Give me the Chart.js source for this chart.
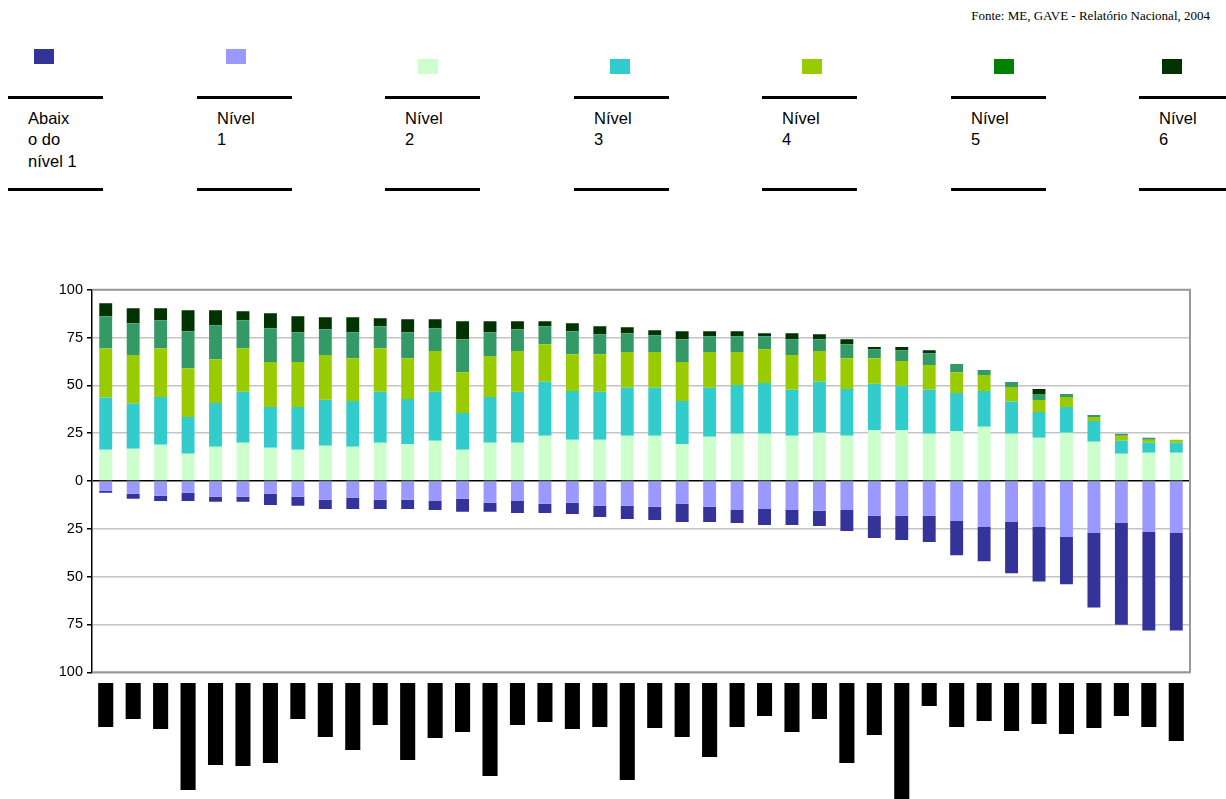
<!DOCTYPE html>
<html>
<head>
<meta charset="utf-8">
<script src="https://cdn.jsdelivr.net/npm/chart.js@4.4.1/dist/chart.umd.min.js"></script>
<style>
  body { margin: 0; background: #fff; width: 1226px; height: 799px; overflow: hidden; position: relative; font-family: Arial, "Liberation Sans", sans-serif; }
  #source { position: absolute; right: 16px; top: 8px; font: 13px "Liberation Serif", "Times New Roman", serif; color: #000; }
  .rule { position: absolute; height: 0; border-top: 3px solid #000; width: 95px; }
  .swatch { position: absolute; width: 20px; height: 15px; }
  .ltext { position: absolute; font-size: 16.5px; line-height: 21.3px; color: #000; white-space: pre; }
  #mainWrap { position: absolute; left: 0; top: 277px; width: 1192px; height: 408px; }
  #blockWrap { position: absolute; left: 92px; top: 683px; width: 1098px; height: 116px; }
</style>
</head>
<body>
<div id="source">Fonte: ME, GAVE - Relatório Nacional, 2004</div>
<div id="legend"></div>
<div id="mainWrap"><canvas id="mainChart"></canvas></div>
<div id="blockWrap"><canvas id="blockChart"></canvas></div>
<script>
// 40 countries, labels hidden in the source picture
const categories = Array.from({length: 40}, (_, i) => 'P' + (i + 1));

// percentages of students per level
const abaixo = [1.0, 2.6, 2.7, 4.3, 2.7, 2.7, 5.8, 4.8, 4.8, 5.8, 4.8, 4.8, 4.7, 6.8, 4.7, 6.3, 4.8, 5.8, 5.8, 6.8,
                6.9, 9.5, 7.9, 6.8, 8.4, 7.9, 7.9, 11.0, 11.6, 12.7, 13.7, 17.9, 17.9, 26.8, 28.5, 24.7, 38.9, 53.2, 51.5, 51.0];
const nivel1 = [5.1, 6.7, 7.7, 6.1, 8.2, 8.2, 6.7, 8.2, 9.8, 8.8, 9.8, 9.8, 10.4, 9.3, 11.4, 10.4, 11.9, 11.4, 13.0, 13.0,
                13.5, 11.9, 13.5, 15.1, 14.6, 15.1, 15.6, 15.1, 18.2, 18.2, 18.2, 20.9, 24.0, 21.4, 24.0, 29.3, 27.2, 21.9, 26.7, 27.2];
const nivel2 = [16.3, 16.8, 18.9, 14.2, 17.9, 20.0, 17.4, 16.3, 18.4, 17.9, 20.0, 19.4, 21.0, 16.3, 20.0, 20.0, 23.6, 21.5, 21.5, 23.6,
                23.6, 19.4, 23.1, 24.7, 24.7, 23.6, 25.2, 23.6, 26.7, 26.7, 24.7, 26.2, 28.3, 24.7, 22.6, 25.2, 20.5, 14.2, 14.8, 14.8];
const nivel3 = [27.3, 23.7, 25.0, 19.3, 22.9, 26.7, 21.3, 22.4, 24.1, 23.9, 26.7, 23.5, 25.7, 19.3, 23.9, 26.7, 28.3, 25.5, 25.2, 25.2,
                25.2, 22.4, 25.7, 25.5, 26.5, 24.1, 26.7, 24.5, 24.2, 23.1, 23.0, 19.8, 18.7, 16.8, 13.5, 13.5, 10.9, 6.8, 5.2, 5.2];
const nivel4 = [25.8, 25.3, 25.5, 25.5, 22.9, 22.7, 23.5, 23.5, 23.3, 22.4, 22.7, 21.3, 21.2, 21.3, 21.4, 21.2, 19.6, 19.3, 19.6, 18.6,
                18.6, 20.4, 18.6, 17.2, 17.7, 18.1, 16.0, 16.1, 13.3, 12.9, 12.9, 10.9, 8.4, 7.6, 6.3, 5.2, 2.1, 2.6, 1.5, 1.5];
const nivel5 = [16.7, 16.7, 14.6, 19.3, 17.7, 14.6, 17.7, 15.6, 13.5, 13.6, 11.5, 13.6, 12.0, 17.2, 12.5, 11.4, 9.4, 12.0, 10.4, 9.9,
                8.8, 11.9, 8.3, 8.3, 6.8, 8.3, 6.2, 7.3, 4.7, 5.7, 6.2, 4.2, 2.6, 2.6, 3.1, 1.6, 1.0, 1.1, 1.1, 0];
const nivel6 = [6.8, 7.8, 6.3, 10.9, 7.8, 4.7, 7.8, 8.3, 6.3, 7.8, 4.2, 6.7, 4.6, 9.4, 5.7, 4.2, 2.6, 4.2, 4.2, 3.1,
                2.6, 4.2, 2.6, 2.6, 1.6, 3.2, 2.6, 2.6, 1.1, 1.6, 1.6, 0, 0, 0, 2.6, 0, 0, 0, 0, 0];

// lengths of the blacked-out country labels under the axis
const labelBlocks = [44, 36, 46, 107, 82, 83, 80, 36, 54, 67, 42, 77, 55, 49, 93, 42, 39, 46, 44, 97,
                     45, 54, 74, 44, 33, 49, 36, 80, 52, 116, 23, 44, 38, 48, 41, 51, 45, 33, 44, 58];

const yTicks = [-100, -75, -50, -25, 0, 25, 50, 75, 100];

const seriesLabels = ['Abaix\no do\nnível 1', 'Nível\n1', 'Nível\n2', 'Nível\n3', 'Nível\n4', 'Nível\n5', 'Nível\n6'];
const barColors = ['#333399', '#9999FF', '#CCFFCC', '#33CCCC', '#99CC00', '#339966', '#003300'];
const swatchColors = ['#333399', '#9999FF', '#CCFFCC', '#33CCCC', '#99CC00', '#008000', '#003300'];

// legend (table-like, as in the original document)
const swatchLeft = [34, 226, 418, 610, 802, 994, 1162];
const swatchTop = [49, 49, 59, 59, 59, 59, 59];
const legend = document.getElementById('legend');
seriesLabels.forEach((lab, i) => {
    const colX = Math.round(8 + i * 188.5);
    legend.insertAdjacentHTML('beforeend',
        `<div class="swatch" style="left:${swatchLeft[i]}px;top:${swatchTop[i]}px;background:${swatchColors[i]}"></div>` +
        `<div class="rule" style="left:${colX}px;top:96px"></div>` +
        `<div class="ltext" style="left:${colX + 20}px;top:108px">${lab}</div>` +
        `<div class="rule" style="left:${colX}px;top:188px"></div>`);
});

const neg = arr => arr.map(v => -v);

const frame = {
    id: 'frame',
    afterDraw(chart) {
        const a = chart.chartArea, c = chart.ctx;
        c.save();
        c.strokeStyle = '#999';
        c.lineWidth = 2;
        c.beginPath();
        c.moveTo(a.left, a.top);
        c.lineTo(a.right, a.top);
        c.lineTo(a.right, a.bottom);
        c.lineTo(a.left, a.bottom);
        c.stroke();
        c.restore();
    }
};

const mk = (label, data, color) => ({ label, data, backgroundColor: color, borderWidth: 0, stack: 's' });

new Chart(document.getElementById('mainChart'), {
    type: 'bar',
    data: {
        labels: categories,
        datasets: [
            mk('Nível 1', neg(nivel1), barColors[1]),
            mk('Abaixo do nível 1', neg(abaixo), barColors[0]),
            mk('Nível 2', nivel2, barColors[2]),
            mk('Nível 3', nivel3, barColors[3]),
            mk('Nível 4', nivel4, barColors[4]),
            mk('Nível 5', nivel5, barColors[5]),
            mk('Nível 6', nivel6, barColors[6])
        ]
    },
    options: {
        responsive: true,
        maintainAspectRatio: false,
        animation: false,
        layout: { padding: { top: 10, bottom: 10, right: 2 } },
        datasets: { bar: { categoryPercentage: 1, barPercentage: 0.47 } },
        plugins: { legend: { display: false }, tooltip: { enabled: false } },
        scales: {
            x: { stacked: true, display: false },
            y: {
                stacked: true,
                min: -100,
                max: 100,
                afterFit: s => { s.width = 92; },
                afterBuildTicks: s => { s.ticks = yTicks.map(v => ({ value: v })); },
                ticks: {
                    callback: v => Math.abs(v),
                    color: '#000',
                    padding: 4,
                    font: { family: 'Arial, "Liberation Sans", sans-serif', size: 14.5 }
                },
                grid: {
                    color: ctx => ctx.tick && ctx.tick.value === 0 ? '#000' : '#c4c4c4',
                    lineWidth: 1.5,
                    tickColor: '#000',
                    tickLength: 5
                },
                border: { display: true, color: '#000', width: 1.5 }
            }
        }
    },
    plugins: [frame]
});

new Chart(document.getElementById('blockChart'), {
    type: 'bar',
    data: {
        labels: categories,
        datasets: [{ data: labelBlocks, backgroundColor: '#000', borderWidth: 0 }]
    },
    options: {
        responsive: true,
        maintainAspectRatio: false,
        animation: false,
        layout: { padding: 0 },
        datasets: { bar: { categoryPercentage: 1, barPercentage: 0.55 } },
        plugins: { legend: { display: false }, tooltip: { enabled: false } },
        scales: {
            x: { display: false },
            y: { display: false, reverse: true, min: 0, max: 116 }
        }
    }
});
</script>
</body>
</html>
